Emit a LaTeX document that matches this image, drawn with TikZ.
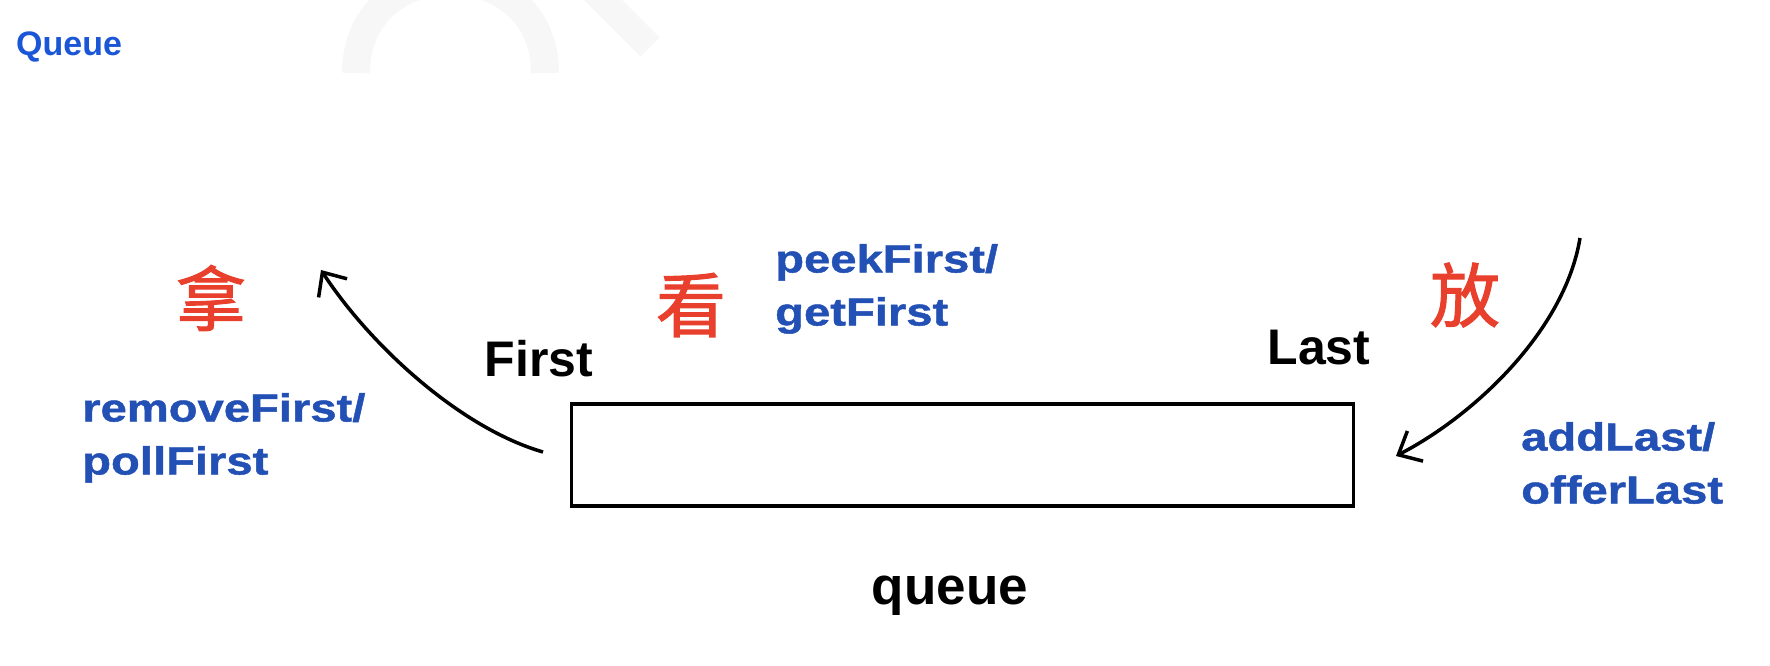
\documentclass[tikz,border=0pt]{standalone}
\usepackage{fontspec}
\setmainfont{Liberation Sans}
\newfontfamily\widefont[FakeStretch=1.21,FakeBold=1.2]{Liberation Sans}
\newfontfamily\cjkfont[FakeBold=1.5]{Noto Sans CJK SC}
\usetikzlibrary{arrows.meta}
\definecolor{titleblue}{HTML}{1A56D6}
\definecolor{methodblue}{HTML}{2350B4}
\definecolor{hanred}{HTML}{E8402D}
\definecolor{wmgray}{HTML}{F7F7F7}
\begin{document}
\begin{tikzpicture}[x=1pt,y=-1pt,
  method/.style={font=\widefont\bfseries\fontsize{39}{53}\selectfont, text=methodblue, anchor=north west, inner sep=0pt, align=left},
  han/.style={font=\cjkfont\fontsize{70}{80}\selectfont, text=hanred, inner sep=0pt},
  endlabel/.style={font=\bfseries\fontsize{50}{60}\selectfont, inner sep=0pt, anchor=base},
  conn/.style={line width=3.5pt, -{Straight Barb[length=19pt,width=34pt]}}]
\useasboundingbox (0,0) rectangle (1770,666);
\begin{scope}
\clip (0,0) rectangle (1770,666);
\draw[wmgray, line width=28pt] (356,73) .. controls (356,-50) and (545,-50) .. (545,73);
\draw[wmgray, line width=27pt] (650,47) -- (585,-18);
\end{scope}
\node[font=\bfseries\fontsize{34}{40}\selectfont, text=titleblue, anchor=base west, inner sep=0pt] (title) at (16,56) {Queue};
\node[han] (take) at (211,298) {拿};
\node[han] (look) at (691,305) {看};
\node[han] (put) at (1465,295) {放};
\node[endlabel] (first) at (539,376) {First};
\node[endlabel] (last) at (1319,364) {Last};
\node[draw, line width=3.5pt, minimum width=782pt, minimum height=102pt, inner sep=0pt] (box) at (962.5,455) {};
\node[endlabel, font=\bfseries\fontsize{53}{60}\selectfont] (qlabel) at (950,604) {queue};
\node[method] (remove) at (82,393) {removeFirst/\\pollFirst};
\node[method] (peek) at (775,244) {peekFirst/\\getFirst};
\node[method] (add) at (1521,422) {addLast/\\offerLast};
\coordinate (lstart) at (543,452);
\coordinate (lend) at (321,270);
\draw[conn] (lstart) .. controls (460,428) and (370,345) .. (lend);
\coordinate (rstart) at (1580,238);
\coordinate (rend) at (1396,456);
\draw[conn] (rstart) .. controls (1565,330) and (1475,415) .. (rend);
\end{tikzpicture}
\end{document}
